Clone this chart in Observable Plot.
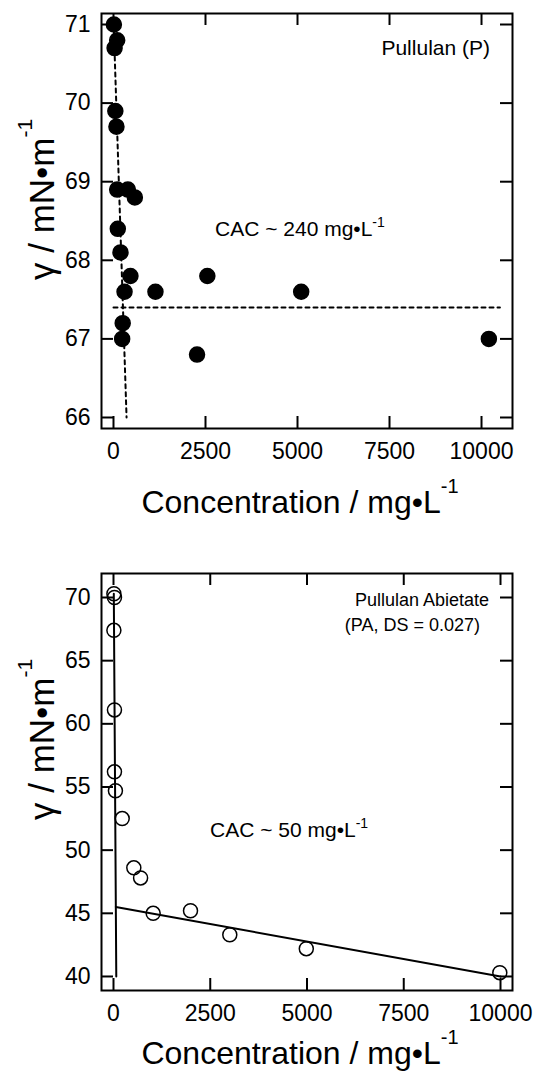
<!DOCTYPE html>
<html><head><meta charset="utf-8">
<script src="https://cdn.jsdelivr.net/npm/d3@7"></script>
<script src="https://cdn.jsdelivr.net/npm/@observablehq/plot@0.6"></script>
<style>
body{margin:0;background:#fff;}
#wrap{width:537px;}
#wrap svg{display:block;}
</style></head><body><div id="wrap"></div>
<script>
// ---- Pullulan (P) ----
const pConc  = [10, 100, 30, 50, 80, 100, 390, 580, 117, 190, 460, 2550, 300, 1140, 250, 235, 2270, 5100, 10200];
const pGamma = [71.0, 70.8, 70.7, 69.9, 69.7, 68.9, 68.9, 68.8, 68.4, 68.1, 67.8, 67.8, 67.6, 67.6, 67.2, 67.0, 66.8, 67.6, 67.0];
const pSteepX = [5, 355],   pSteepY = [71.0, 66.0];
const pFlatX  = [0, 10500], pFlatY  = [67.4, 67.4];
const pYTicks = [66, 67, 68, 69, 70, 71];

// ---- Pullulan Abietate (PA) ----
const paConc  = [10, 25, 10, 25, 25, 50, 225, 525, 700, 1025, 1990, 3005, 4982, 9982];
const paGamma = [70.3, 70.0, 67.4, 61.1, 56.2, 54.7, 52.5, 48.6, 47.8, 45.0, 45.2, 43.3, 42.2, 40.3];
const paSteepX = [8, 72],    paSteepY = [70.3, 40.0];
const paFlatX  = [60, 10000], paFlatY  = [45.5, 40.0];
const paYTicks = [40, 45, 50, 55, 60, 65, 70];

const xTicks = [0, 2500, 5000, 7500, 10000];

const FONT = "'Liberation Sans', Arial, Helvetica, sans-serif";
const zip = (xs, ys) => xs.map((x, i) => ({x, y: ys[i]}));

function panel(o) {
  const W = 537, ML = 101, MR = 25;
  const fw = W - ML - MR, fh = o.height - o.marginTop - o.marginBottom, T = 12;
  const [x0, x1] = o.xDomain, [y0, y1] = o.yDomain;
  const tx = T * (x1 - x0) / fw, ty = T * (y1 - y0) / fh; // tick length in data units
  const ax = {tickSize: 0, label: null, tickFormat: d3.format("d"), fontSize: 23};
  const tk = {stroke: "#000", strokeWidth: 2};
  const chart = Plot.plot({
    width: W, height: o.height,
    marginLeft: ML, marginRight: MR, marginTop: o.marginTop, marginBottom: o.marginBottom,
    style: {fontFamily: FONT, background: "#fff", color: "#000", overflow: "visible"},
    x: {domain: o.xDomain},
    y: {domain: o.yDomain},
    marks: [
      Plot.axisX(xTicks, {...ax, anchor: "bottom", tickPadding: 14}),
      Plot.axisY(o.yTicks, {...ax, anchor: "left", tickPadding: 11}),
      Plot.ruleX(xTicks, {x: d => d, y1: y0, y2: y0 + ty, ...tk}),
      Plot.ruleX(xTicks, {x: d => d, y1: y1 - ty, y2: y1, ...tk}),
      Plot.ruleY(o.yTicks, {y: d => d, x1: x0, x2: x0 + tx, ...tk}),
      Plot.ruleY(o.yTicks, {y: d => d, x1: x1 - tx, x2: x1, ...tk}),
      ...o.fits.map(f => Plot.line(f, {x: "x", y: "y", stroke: "#000", strokeWidth: 2, strokeDasharray: o.dash})),
      Plot.dot(zip(o.conc, o.gamma), {x: "x", y: "y", r: o.r, fill: o.filled ? "#000" : "none", stroke: "#000", strokeWidth: 1.5}),
      Plot.frame({stroke: "#000", strokeWidth: 2})
    ]
  });
  const svg = d3.select(chart);
  const addText = (x, y, size, anchor, main, sup, rotate) => {
    const t = svg.append("text")
      .attr("font-family", FONT).attr("font-size", size).attr("fill", "#000")
      .attr("text-anchor", anchor)
      .attr("transform", `translate(${x},${y})` + (rotate ? " rotate(-90)" : ""));
    t.append("tspan").text(main);
    if (sup) t.append("tspan").attr("font-size", sup.size).attr("dy", sup.dy).text(sup.t);
  };
  o.texts.forEach(a => addText(...a));
  return chart;
}

const wrap = document.getElementById("wrap");

wrap.appendChild(panel({
  height: 540, marginTop: 13, marginBottom: 112,
  xDomain: [-326, 10842], yDomain: [65.86, 71.14], yTicks: pYTicks,
  conc: pConc, gamma: pGamma, filled: true, r: 7.5, dash: "4,4",
  fits: [zip(pSteepX, pSteepY), zip(pFlatX, pFlatY)],
  texts: [
    [490, 55, 21, "end", "Pullulan (P)"],
    [215, 236, 21, "start", "CAC ~ 240 mg\u2022L", {t: "-1", size: 14, dy: -9}],
    [300, 513, 32, "middle", "Concentration / mg\u2022L", {t: "-1", size: 20, dy: -20}],
    [54, 280, 35, "start", "\u03b3 / mN\u2022m", {t: "-1", size: 21, dy: -22}, true]
  ]
}));

wrap.appendChild(panel({
  height: 536, marginTop: 33, marginBottom: 86,
  xDomain: [-310, 10310], yDomain: [38.89, 71.9], yTicks: paYTicks,
  conc: paConc, gamma: paGamma, filled: false, r: 7, dash: null,
  fits: [zip(paSteepX, paSteepY), zip(paFlatX, paFlatY)],
  texts: [
    [489, 66, 18, "end", "Pullulan Abietate"],
    [480, 91, 18, "end", "(PA, DS = 0.027)"],
    [210, 297, 21, "start", "CAC ~ 50 mg\u2022L", {t: "-1", size: 14, dy: -9}],
    [300, 524, 32, "middle", "Concentration / mg\u2022L", {t: "-1", size: 20, dy: -20}],
    [54, 280, 35, "start", "\u03b3 / mN\u2022m", {t: "-1", size: 21, dy: -22}, true]
  ]
}));
</script>
</body></html>
